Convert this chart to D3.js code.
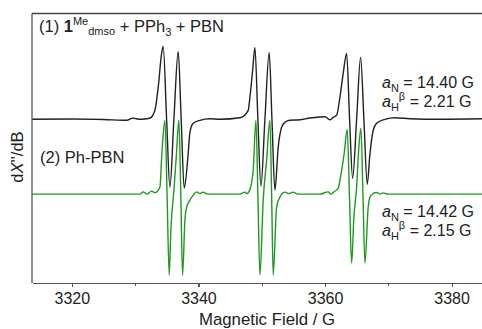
<!DOCTYPE html>
<html>
<head>
<meta charset="utf-8">
<script src="https://cdn.jsdelivr.net/npm/d3@7"></script>
<style>
body { margin: 0; background: #fff; }
svg { font-family: "Liberation Sans", Arial, sans-serif; }
.axis path, .axis line { stroke: #555; stroke-width: 1.2; shape-rendering: crispEdges; }
.axis text { fill: #222; font-size: 16px; }
</style>
</head>
<body>
<script>
// field (G) and derivative intensity (arb. units)
var field1 = [3313.7, 3320, 3325, 3328.7, 3329.6, 3330.8, 3332.3, 3333.12, 3333.64, 3334.18, 3334.43, 3334.97, 3335.49, 3336.12, 3336.8, 3337.27, 3337.75, 3338.38, 3338.65, 3339.17, 3340.23, 3341.81, 3343.39, 3346.55,
  3347.86, 3348.13, 3348.56, 3348.92, 3349.39, 3349.87, 3350.5, 3351.18, 3351.61, 3352.08, 3352.6, 3353.14, 3353.66, 3354.45, 3356.03, 3357.61, 3359.19, 3359.98, 3360.77, 3361.29,
  3361.83, 3362.35, 3362.87, 3363.41, 3363.88, 3364.36, 3364.99, 3365.62, 3366.14, 3366.67, 3367.09, 3367.61, 3368.15, 3369.46, 3371.04, 3373.41, 3378.15, 3384.8];
var signal1 = [0, 0.3, -0.2, -1, 1.2, 0, 1, 9, 32, 66, 73, 0, -68, 0, 68, 0, -69, -34, -13, -4, -1, 0.5, 0, 1.5,
  9, 22, 49, 72, 0, -67, 0, 67, 0, -71, -28, -8, -3, -1, -0.5, 1.3, 2.3, 2.5, -0.5, 2,
  4, 22, 46, 66, 0, -59, 0, 62, 0, -65, -35, -11, -4, 0, 1.5, 0.5, 0, 0.5];

var field2 = [3313.7, 3325, 3330.75, 3331.27, 3331.85, 3332.59, 3333.12, 3333.91, 3334.22, 3334.7, 3335.04, 3335.38, 3335.64, 3336.12, 3336.51, 3336.91, 3337.21, 3337.49, 3337.86, 3338.13, 3338.65, 3339.17, 3339.71, 3340.23, 3340.7, 3341.49,
  3346.55, 3347.34, 3347.65, 3348.02, 3348.29, 3348.65, 3349.08, 3349.39, 3349.71, 3350.23, 3350.77, 3351.29, 3351.56, 3351.81, 3352.35, 3352.87, 3353.66, 3354.29, 3354.92, 3355.71,
  3359.19, 3360.5, 3360.93, 3361.4, 3362.08, 3362.62, 3363.03, 3363.51, 3363.85, 3364.2, 3364.56, 3364.99, 3365.31, 3365.67, 3365.99, 3366.3, 3366.82, 3367.09, 3367.61, 3368.15, 3368.67, 3369.15, 3369.94, 3384.8];
var signal2 = [0, 0, 0, 2.3, 0, 3, 1.5, 7, 41, 74, 0, -81, -36, 4, 39, 74, 0, -81, -26, -13, -6, -1, 2.3, 0.5, 2, 0,
  0, 2, 0.5, 3, 8, 24, 74, 0, -81, -6, 34, 74, 0, -81, -13, -3, 2, 0.5, 2, 0,
  0, 2.3, 0, 2.3, 6, 24, 41, 65, 0, -69, -23, 7, 44, 66, 0, -69, -13, -3, 0.7, 1.7, 0, 1.3, 0, 0];

var offsets = [64, -11];
var colors = ["#222222", "#1e9a1e"];
var majorTicks = [3320, 3340, 3360, 3380];
var minorTicks = [3330, 3350, 3370];

var width = 482, height = 329;
var margin = {top: 13.5, right: 0, bottom: 46, left: 32};

var svg = d3.select("body").append("svg")
    .attr("width", width)
    .attr("height", height);

var x = d3.scaleLinear()
    .domain([3313.7, 3384.8])
    .range([margin.left, width - margin.right]);

var y = d3.scaleLinear()
    .domain([-100, 170])
    .range([height - margin.bottom, margin.top]);

var traces = [
  d3.zip(field1, signal1),
  d3.zip(field2, signal2)
];

var line = d3.line()
    .curve(d3.curveMonotoneX);

traces.forEach(function(t, i) {
  svg.append("path")
      .attr("d", line.x(function(d) { return x(d[0]); }).y(function(d) { return y(d[1] + offsets[i]); })(t))
      .style("fill", "none")
      .style("stroke", colors[i])
      .style("stroke-width", 1.4)
      .style("stroke-linejoin", "round");
});

// frame: left and top lines
svg.append("line")
    .attr("x1", margin.left).attr("x2", margin.left)
    .attr("y1", margin.top).attr("y2", height - margin.bottom)
    .style("stroke", "#555").style("stroke-width", 1.3);
svg.append("line")
    .attr("x1", margin.left).attr("x2", width)
    .attr("y1", margin.top).attr("y2", margin.top)
    .style("stroke", "#444").style("stroke-width", 1.3);

svg.append("g")
    .attr("class", "axis")
    .attr("transform", "translate(0," + (height - margin.bottom) + ")")
    .call(d3.axisBottom(x).tickValues(minorTicks).tickSize(3).tickFormat(""))
    .call(function(g) { g.select(".domain").remove(); });

svg.append("g")
    .attr("class", "axis")
    .attr("transform", "translate(0," + (height - margin.bottom) + ")")
    .call(d3.axisBottom(x).tickValues(majorTicks).tickSize(4).tickSizeOuter(0).tickPadding(6).tickFormat(d3.format("d")));

svg.append("text")
    .attr("x", 267)
    .attr("y", 325)
    .style("text-anchor", "middle")
    .style("font-size", "16.8px")
    .style("fill", "#222")
    .text("Magnetic Field / G");

var ylab = svg.append("text")
    .attr("transform", "translate(23,157) rotate(-90)")
    .style("text-anchor", "middle")
    .style("font-size", "16.5px")
    .style("fill", "#222");
ylab.append("tspan").text("d");
ylab.append("tspan").style("font-style", "italic").text("X");
ylab.append("tspan").text("''/dB");

// sample labels
var t1 = svg.append("text")
    .attr("x", 39).attr("y", 32)
    .style("font-size", "16.5px").style("fill", "#222");
t1.append("tspan").text("(1) ");
t1.append("tspan").style("font-weight", "bold").text("1");
t1.append("tspan").attr("dy", -7.5).style("font-size", "11px").text("Me");
t1.append("tspan").attr("dy", 10.5).style("font-size", "11px").text("dmso");
t1.append("tspan").attr("dy", -3).text(" + PPh");
t1.append("tspan").attr("dy", 4).style("font-size", "11px").text("3");
t1.append("tspan").attr("dy", -4).text(" + PBN");

svg.append("text")
    .attr("x", 40).attr("y", 163)
    .style("font-size", "16.5px").style("fill", "#222")
    .text("(2) Ph-PBN");

// hyperfine couplings
var couplings = [
  {aN: "14.40", aH: "2.21", y: 88},
  {aN: "14.42", aH: "2.15", y: 217}
];

couplings.forEach(function(c) {
  var a = svg.append("text")
      .attr("x", 382).attr("y", c.y)
      .style("font-size", "16px").style("fill", "#222");
  a.append("tspan").style("font-style", "italic").text("a");
  a.append("tspan").attr("dy", 4).style("font-size", "11px").text("N");
  a.append("tspan").attr("dy", -4).text(" = " + c.aN + " G");

  var b = svg.append("text")
      .attr("x", 382).attr("y", c.y + 18.5)
      .style("font-size", "16px").style("fill", "#222");
  b.append("tspan").style("font-style", "italic").text("a");
  b.append("tspan").attr("dy", 4).style("font-size", "11px").text("H");
  b.append("tspan").attr("dy", -11).style("font-size", "11px").text("\u03b2");
  b.append("tspan").attr("dy", 7).text(" = " + c.aH + " G");
});
</script>
</body>
</html>
